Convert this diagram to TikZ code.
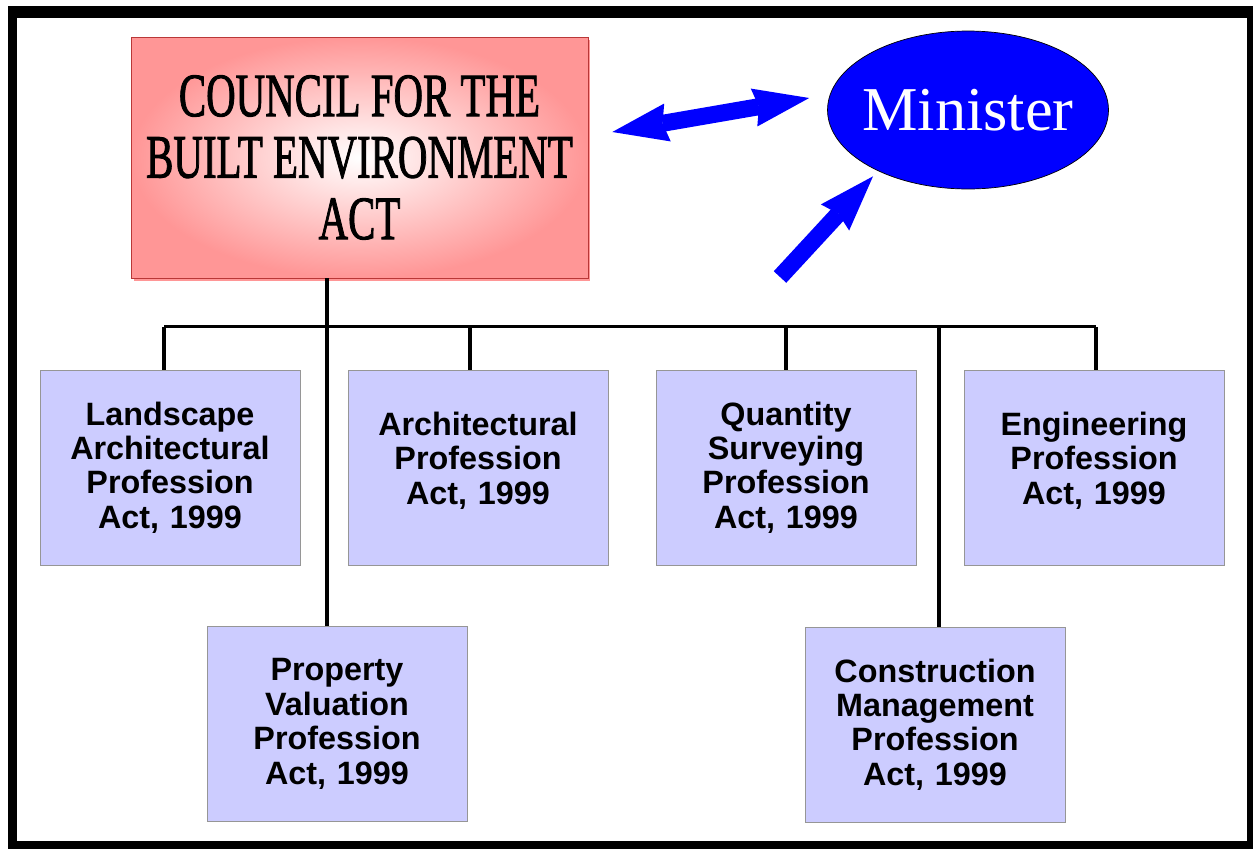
\documentclass[tikz,border=0pt]{standalone}
\usepackage{fontspec}
\setmainfont{Liberation Serif}
\setsansfont{Liberation Sans}
\newfontfamily\councilfont[FakeBold=1.8]{Liberation Serif}
\usepackage{graphicx}
\usepackage{xcolor}
\definecolor{actfill}{RGB}{204,204,255}
\definecolor{actedge}{RGB}{150,150,150}
\definecolor{councilpink}{RGB}{255,150,150}
\definecolor{counciledge}{RGB}{185,55,55}
\usepackage{tikz}
\usetikzlibrary{positioning, shapes.geometric, arrows.meta, calc, shadows}
\newcommand{\narrow}[1]{\scalebox{0.665}[1]{#1}}
\tikzstyle{act} = [
    draw=actedge, fill=actfill,
    minimum width=5.2cm, minimum height=3.9cm,
    text width=5cm, align=center, inner sep=0pt,
    font=\sffamily\bfseries\fontsize{18.4}{19.6}\selectfont,
]
\tikzstyle{tree} = [line width=0.065cm]
\tikzstyle{bigarrow} = [blue, line width=0.34cm,
    >={Stealth[length=1.12cm, width=0.77cm, inset=0.1cm, line width=0pt]}]

\begin{document}
\begin{tikzpicture}[x=0.02cm, y=-0.02cm]
    \useasboundingbox (0,0) rectangle (1253,849);
    % frame
    \fill[black] (8,6) rectangle (1253,849);
    \fill[white] (17,18) rectangle (1247,841);

    \node at (359.5,157.5) (council) [draw=counciledge, shading=radial,
        inner color=white, outer color=councilpink,
        minimum width=9.14cm, minimum height=4.82cm, align=center,
        font=\councilfont\fontsize{35}{35}\selectfont,
        drop shadow={shadow xshift=0.05cm, shadow yshift=-0.06cm,
            fill=councilpink, opacity=1}]
        {\narrow{COUNCIL FOR THE}\\ \narrow{BUILT ENVIRONMENT}\\ \narrow{ACT}};
    \node at (968,110) (minister) [ellipse, draw=black, fill=blue, text=white,
        minimum width=5.62cm, minimum height=3.16cm, inner sep=0pt,
        font=\fontsize{35.5}{36}\selectfont] {\makebox[0pt]{Minister}};

    \node at (170,467.5) (land) [act] {Landscape\\ Architectural\\ Profession\\ Act, 1999};
    \node at (478,467.5) (arch) [act, text depth=50pt] {Architectural\\ Profession\\ Act, 1999};
    \node at (786,467.5) (qs) [act] {Quantity\\ Surveying\\ Profession\\ Act, 1999};
    \node at (1094,467.5) (eng) [act, text depth=50pt] {Engineering\\ Profession\\ Act, 1999};
    \node at (337,724) (prop) [act] {Property\\ Valuation\\ Profession\\ Act, 1999};
    \node at (935,724.5) (cm) [act] {Construction\\ Management\\ Profession\\ Act, 1999};

    % tree
    \coordinate (bus) at ($(land.north)+(0,-43)$);
    \draw[tree] ($(land.north)+(-6,-43)$) -- ($(eng.north)+(2,-43)$);
    \foreach \n/\dx in {land/-6, arch/-8, qs/0, eng/2}
        \draw[tree] ($(\n.north)+(\dx,0)$) -- ++(0,-43);
    \draw[tree] ($(prop.north)+(-10,0)$) coordinate (trunk) -- (trunk |- council.south);
    \draw[tree] ($(cm.north)+(4,0)$) coordinate (cmtrunk) -- (cmtrunk |- bus);

    % arrows to the minister
    \coordinate (feed) at (780,277);
    \draw[bigarrow, <->] ([shift={(24,-25.5)}]council.east) -- ([shift={(-18,-12)}]minister.west);
    \draw[bigarrow, ->] (feed) -- ([shift={(-95,-13)}]minister.south);
\end{tikzpicture}
\end{document}
